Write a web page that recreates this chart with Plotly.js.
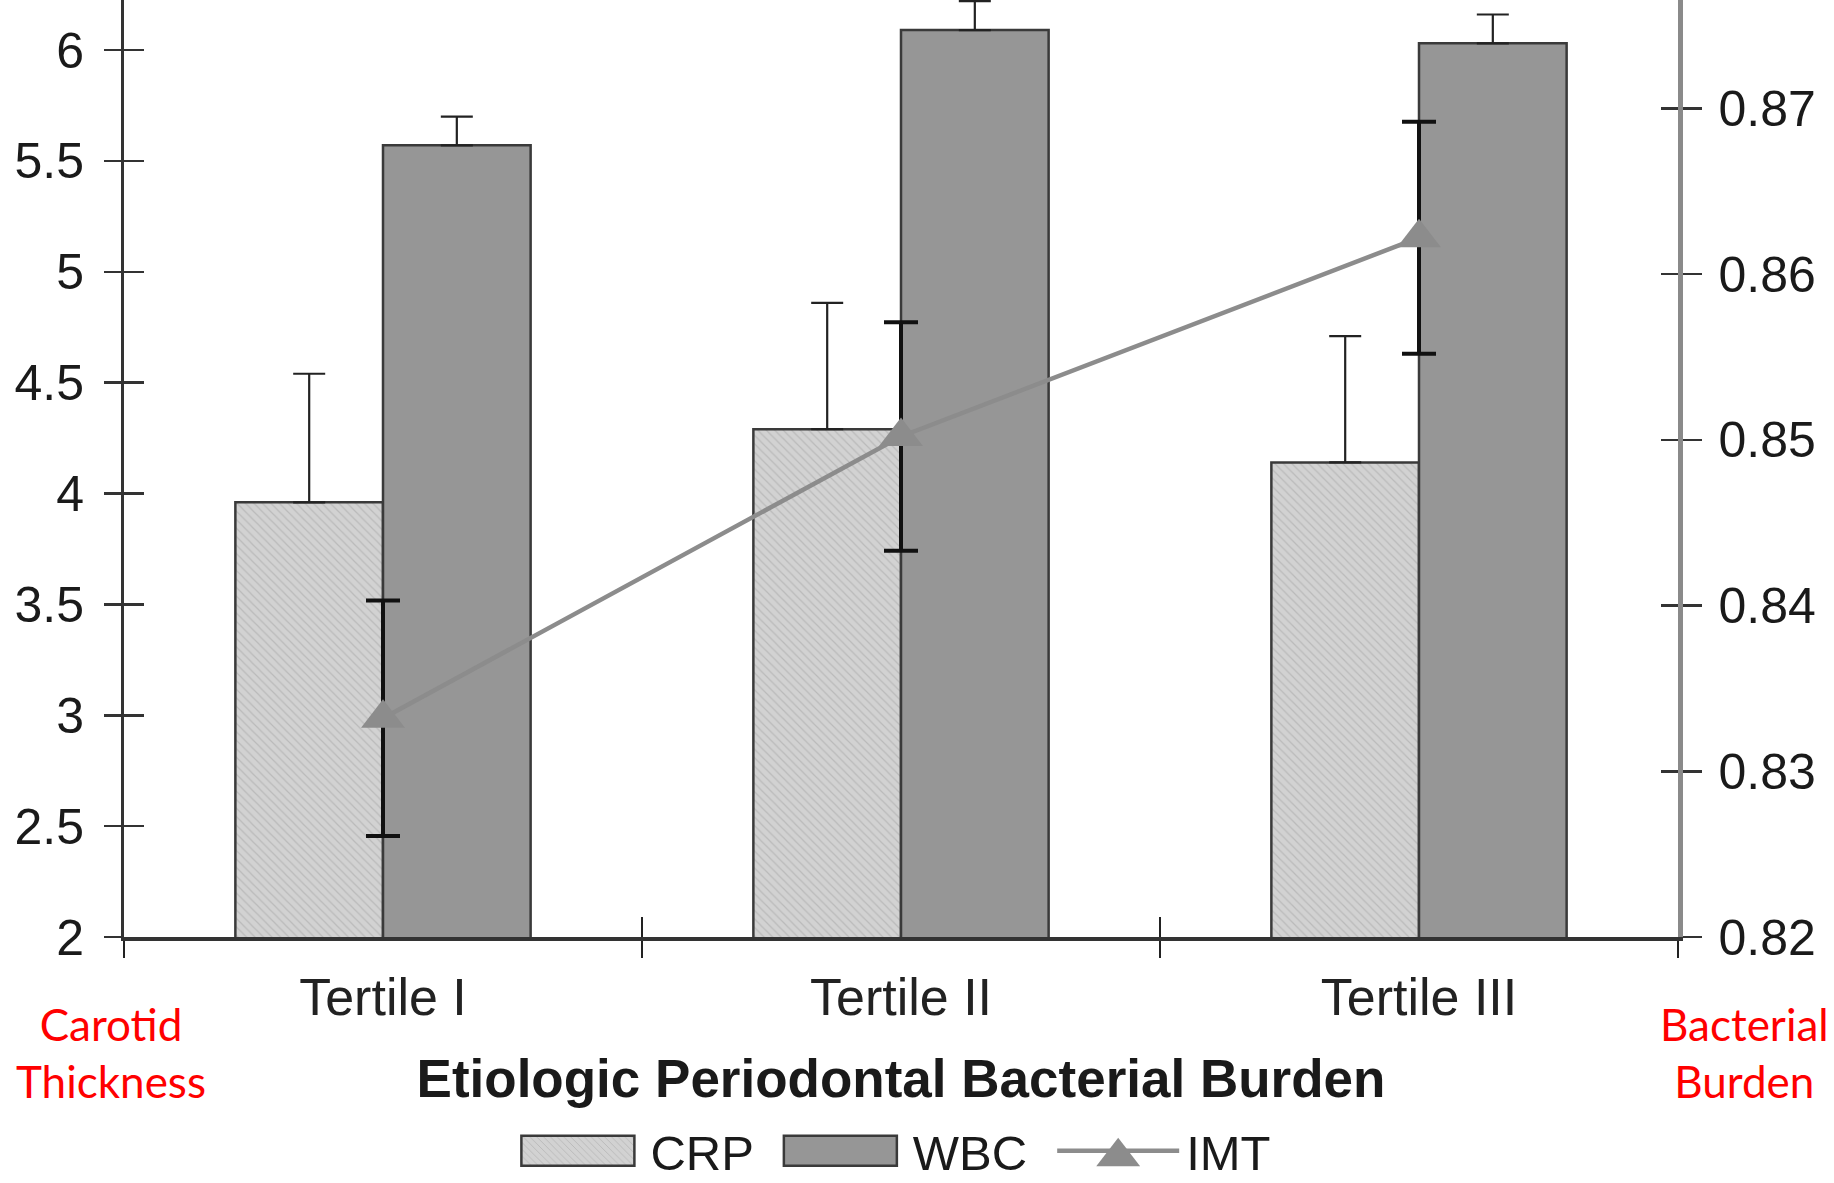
<!DOCTYPE html>
<html>
<head>
<meta charset="utf-8">
<script src="https://cdn.plot.ly/plotly-3.0.1.min.js"></script>
<style>
  html, body { margin: 0; padding: 0; background: #ffffff; }
  #chart { width: 1834px; height: 1183px; }
</style>
</head>
<body>
<div id="chart"></div>
<script>
// ---- data ----
const categories = ['Tertile I', 'Tertile II', 'Tertile III'];
const crpValues = [3.96, 4.29, 4.14];
const crpErrors = [0.58, 0.57, 0.57];
const wbcValues = [5.57, 6.09, 6.03];
const wbcErrors = [0.13, 0.13, 0.13];
const imtValues = [0.8332, 0.8502, 0.8622];
const imtErrors = [0.0071, 0.0069, 0.0070];
const leftTickVals = [2, 2.5, 3, 3.5, 4, 4.5, 5, 5.5, 6];
const leftTickText = ['2', '2.5', '3', '3.5', '4', '4.5', '5', '5.5', '6'];
const rightTickVals = [0.82, 0.83, 0.84, 0.85, 0.86, 0.87];
const rightTickText = ['0.82', '0.83', '0.84', '0.85', '0.86', '0.87'];
const leftRange = [2, 6.2255];
const rightRange = [0.82, 0.87654];
const zeros = categories.map(() => 0);

const FONT = 'Liberation Sans, Arial, Helvetica, sans-serif';

const traces = [
  {
    type: 'bar', name: 'CRP', x: categories, y: crpValues,
    marker: {
      color: '#d0d0d0',
      pattern: { shape: '\\', fgcolor: '#bababa', bgcolor: '#d2d2d2', size: 6, solidity: 0.2 },
      line: { color: '#3a3a3a', width: 2.5 }
    },
    error_y: { type: 'data', symmetric: false, array: crpErrors, arrayminus: zeros,
               color: '#222222', thickness: 2.2, width: 16 },
    hoverinfo: 'y'
  },
  {
    type: 'bar', name: 'WBC', x: categories, y: wbcValues,
    marker: { color: '#969696', line: { color: '#3a3a3a', width: 2.5 } },
    error_y: { type: 'data', symmetric: false, array: wbcErrors, arrayminus: zeros,
               color: '#222222', thickness: 2.2, width: 16 },
    hoverinfo: 'y'
  },
  {
    type: 'scatter', mode: 'lines+markers', name: 'IMT', x: categories, y: imtValues,
    yaxis: 'y2',
    line: { color: '#8c8c8c', width: 4.5 },
    marker: { symbol: 'triangle-up', size: 38, color: '#8c8c8c' },
    error_y: { type: 'data', array: imtErrors, color: '#111111', thickness: 4, width: 17 },
    hoverinfo: 'y'
  },
  // invisible helpers so the tick-crossing overlay axes are drawn
  { type: 'scatter', mode: 'markers', x: categories, y: crpValues, xaxis: 'x2', yaxis: 'y',
    marker: { opacity: 0 }, showlegend: false, hoverinfo: 'skip' },
  { type: 'scatter', mode: 'markers', x: categories, y: crpValues, yaxis: 'y3',
    marker: { opacity: 0 }, showlegend: false, hoverinfo: 'skip' },
  { type: 'scatter', mode: 'markers', x: categories, y: imtValues, yaxis: 'y4',
    marker: { opacity: 0 }, showlegend: false, hoverinfo: 'skip' }
];

const layout = {
  width: 1834, height: 1183,
  margin: { l: 124, r: 156, t: 0, b: 246, pad: 0, autoexpand: false },
  paper_bgcolor: '#ffffff', plot_bgcolor: '#ffffff',
  font: { family: FONT, color: '#1a1a1a' },
  barmode: 'group', bargap: 0.43, bargroupgap: 0,
  showlegend: true,
  legend: {
    orientation: 'h', x: 0.4906, xanchor: 'center', y: -0.2284, yanchor: 'middle',
    font: { size: 49, family: FONT, color: '#1a1a1a' },
    itemwidth: 144, bgcolor: 'rgba(0,0,0,0)', traceorder: 'normal'
  },
  xaxis: {
    type: 'category', categoryarray: categories, range: [-0.5, 2.5], automargin: false,
    tickson: 'boundaries', ticks: 'outside', ticklen: 17, tickwidth: 2, tickcolor: '#222222',
    showline: true, linecolor: '#333333', linewidth: 3.5,
    showgrid: false, zeroline: false,
    tickfont: { size: 52, family: FONT, color: '#222222' },
    ticklabelstandoff: 12,
    title: { text: '<b>Etiologic Periodontal Bacterial Burden</b>',
             font: { size: 53, family: FONT, color: '#1a1a1a' }, standoff: 36 }
  },
  xaxis2: {
    type: 'category', categoryarray: categories, range: [-0.5, 2.5], overlaying: 'x',
    tickson: 'boundaries', ticks: 'inside', ticklen: 20, tickwidth: 2, tickcolor: '#222222',
    showticklabels: false, showline: false, showgrid: false, zeroline: false
  },
  yaxis: {
    range: leftRange, tickvals: leftTickVals, ticktext: leftTickText, automargin: false,
    ticks: 'outside', ticklen: 17, tickwidth: 2.5, tickcolor: '#333333',
    showline: true, linecolor: '#333333', linewidth: 3,
    showgrid: false, zeroline: false,
    tickfont: { size: 50, family: FONT, color: '#1a1a1a' },
    ticklabelstandoff: 10
  },
  yaxis3: {
    range: leftRange, tickvals: leftTickVals, overlaying: 'y',
    ticks: 'inside', ticklen: 20, tickwidth: 2.5, tickcolor: '#333333',
    showticklabels: false, showline: false, showgrid: false, zeroline: false
  },
  yaxis2: {
    range: rightRange, tickvals: rightTickVals, ticktext: rightTickText, automargin: false,
    overlaying: 'y', side: 'right',
    ticks: 'outside', ticklen: 19, tickwidth: 2.5, tickcolor: '#333333',
    showline: true, linecolor: '#8a8a8a', linewidth: 4.5,
    showgrid: false, zeroline: false,
    tickfont: { size: 50, family: FONT, color: '#1a1a1a' },
    ticklabelstandoff: 7
  },
  yaxis4: {
    range: rightRange, tickvals: rightTickVals, overlaying: 'y', side: 'right',
    ticks: 'inside', ticklen: 17, tickwidth: 2.5, tickcolor: '#333333',
    showticklabels: false, showline: false, showgrid: false, zeroline: false
  },
  annotations: [
    { xref: 'paper', yref: 'paper', x: -0.0084, y: -0.1233, xanchor: 'center', yanchor: 'middle',
      text: 'Carotid<br>Thickness', showarrow: false, align: 'center',
      font: { family: 'Lato, Liberation Sans, sans-serif', size: 44, color: '#ff0000' } },
    { xref: 'paper', yref: 'paper', x: 1.0428, y: -0.1233, xanchor: 'center', yanchor: 'middle',
      text: 'Bacterial<br>Burden', showarrow: false, align: 'center',
      font: { family: 'Lato, Liberation Sans, sans-serif', size: 44, color: '#ff0000' } }
  ]
};

// Widen the legend swatches to the long boxes / long line used in the reference
function widenLegendSymbols() {
  const W = 113, H = 30, GAP = 16;
  document.querySelectorAll('.legend .traces').forEach(g => {
    const d = g.__data__;
    const tr = d && d[0] && d[0].trace;
    const text = g.querySelector('text.legendtext');
    if (!tr || !text) return;
    const tx = parseFloat(text.getAttribute('x')) || 154;
    const x0 = tx - GAP - W;
    if (tr.type === 'bar') {
      g.querySelectorAll('.legendpoints path').forEach(p => {
        p.setAttribute('d', `M${x0},${H / 2}h${W}v${-H}h${-W}Z`);
        p.removeAttribute('transform');
      });
    } else {
      g.querySelectorAll('.legendlines path').forEach(p => {
        p.setAttribute('d', `M${x0},0h${W + 9}`);
        p.removeAttribute('transform');
      });
      const r = 19, rt = (r * 2 / Math.sqrt(3)).toFixed(2);
      g.querySelectorAll('.legendpoints path').forEach(p => {
        p.setAttribute('d', `M-${rt},${r / 2}H${rt}L0,-${r}Z`);
        p.setAttribute('transform', `translate(${x0 + (W + 9) / 2},6)`);
      });
    }
  });
}

Plotly.newPlot('chart', traces, layout, { staticPlot: true, displayModeBar: false })
  .then(widenLegendSymbols);
</script>
</body>
</html>
